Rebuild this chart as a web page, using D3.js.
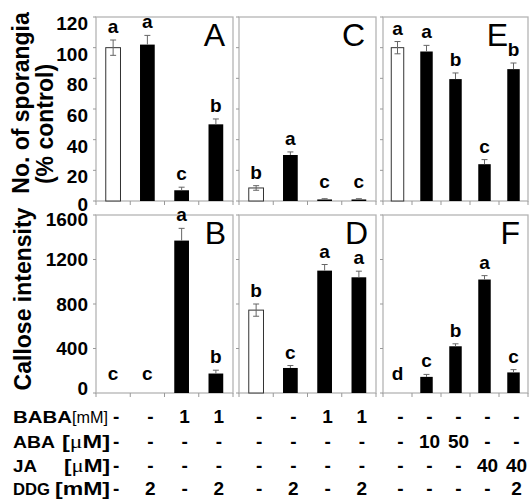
<!DOCTYPE html>
<html>
<head>
<meta charset="utf-8">
<script src="https://cdn.jsdelivr.net/npm/d3@7"></script>
<style>
  body { margin: 0; background: #fff; }
  text { font-family: Arial, "Liberation Sans", sans-serif; }
</style>
</head>
<body>
<script>
// sporangia (% control), panels A, C, E
var sporA = [100, 102, 7, 50];
var sporAErr = [5, 6, 2, 3.5];
var sporALetters = ["a", "a", "c", "b"];
var sporC = [8.5, 30, 1, 1];
var sporCErr = [1.5, 2, 0.5, 0.5];
var sporCLetters = ["b", "a", "c", "c"];
var sporE = [100, 97.5, 79.5, 24, 86];
var sporEErr = [4, 4, 4, 3, 4];
var sporELetters = ["a", "a", "b", "c", "b"];

// callose intensity, panels B, D, F
var calB = [0, 0, 1370, 175];
var calBErr = [0, 0, 110, 30];
var calBLetters = ["c", "c", "a", "b"];
var calD = [745, 225, 1100, 1040];
var calDErr = [55, 22, 55, 55];
var calDLetters = ["b", "c", "a", "a"];
var calF = [0, 145, 420, 1020, 185];
var calFErr = [0, 22, 22, 35, 25];
var calFLetters = ["d", "c", "b", "a", "c"];

var sporTicks = [0, 20, 40, 60, 80, 100, 120];
var calTicks = [0, 400, 800, 1200, 1600];

// treatment table, 13 columns
var rowNames = ["BABA", "ABA", "JA", "DDG"];
var rowUnits = ["[mM]", "[\u03bcM]", "[\u03bcM]", "[mM]"];
var babaRow = ["-", "-", "1", "1", "-", "-", "1", "1", "-", "-", "-", "-", "-"];
var abaRow  = ["-", "-", "-", "-", "-", "-", "-", "-", "-", "10", "50", "-", "-"];
var jaRow   = ["-", "-", "-", "-", "-", "-", "-", "-", "-", "-", "-", "40", "40"];
var ddgRow  = ["-", "2", "-", "2", "-", "2", "-", "2", "-", "-", "-", "-", "2"];

var width = 531, height = 500;
var svg = d3.select("body").append("svg")
    .attr("width", width)
    .attr("height", height);

var colSpans = [[96, 233], [239, 376], [383, 528]];
var topY = d3.scaleLinear().domain([0, 120]).range([201, 17]);
var botY = d3.scaleLinear().domain([0, 1600]).range([393, 215]);

var panels = [
    {vals: sporA, err: sporAErr, letters: sporALetters, col: 0, y: topY, ticks: sporTicks, name: "A", dx: 8},
    {vals: sporC, err: sporCErr, letters: sporCLetters, col: 1, y: topY, ticks: sporTicks, name: "C", dx: 11},
    {vals: sporE, err: sporEErr, letters: sporELetters, col: 2, y: topY, ticks: sporTicks, name: "E", dx: 20},
    {vals: calB, err: calBErr, letters: calBLetters, col: 0, y: botY, ticks: calTicks, name: "B", dx: 7},
    {vals: calD, err: calDErr, letters: calDLetters, col: 1, y: botY, ticks: calTicks, name: "D", dx: 8},
    {vals: calF, err: calFErr, letters: calFLetters, col: 2, y: botY, ticks: calTicks, name: "F", dx: 8}
];

var xScales = [];

panels.forEach(function(p) {
    var span = colSpans[p.col];
    var n = p.vals.length;
    var x = d3.scaleBand()
        .domain(d3.range(n))
        .range(span)
        .paddingInner(0.57)
        .paddingOuter(0.285);
    if (p.y === topY) xScales[p.col] = x;
    var y = p.y;
    var y0 = y.range()[0], y1 = y.range()[1];
    var g = svg.append("g");

    // frame
    g.append("rect")
        .attr("x", span[0]).attr("y", y1)
        .attr("width", span[1] - span[0]).attr("height", y0 - y1)
        .attr("fill", "none")
        .attr("stroke", "#b4b4b4")
        .attr("stroke-width", 1.3);

    // bottom ticks at category boundaries
    var step = x.step();
    g.selectAll(".xt")
        .data(d3.range(n + 1))
        .enter().append("line")
        .attr("x1", i => span[0] + i * step)
        .attr("x2", i => span[0] + i * step)
        .attr("y1", y0).attr("y2", y0 + 4)
        .attr("stroke", "#999");

    // left ticks
    g.selectAll(".yt")
        .data(p.ticks)
        .enter().append("line")
        .attr("x1", span[0] - 3).attr("x2", span[0])
        .attr("y1", d => y(d)).attr("y2", d => y(d))
        .attr("stroke", "#999");

    if (p.col === 0) {
        var top = p.ticks[p.ticks.length - 1];
        g.selectAll(".yl")
            .data(p.ticks)
            .enter().append("text")
            .attr("x", span[0] - 8)
            .attr("y", function(d) {
                // labels sit a little low in the top row, ends pulled in below
                if (p.y === topY) return y(d) + (d === 0 ? 3 : 6);
                if (d === top) return y(d) + 4;
                if (d === 0) return y(d) - 5;
                return y(d);
            })
            .attr("dy", "0.36em")
            .attr("text-anchor", "end")
            .attr("font-size", 19)
            .attr("font-weight", "bold")
            .text(d => d);
    }

    // bars
    g.selectAll(".bar")
        .data(p.vals)
        .enter().append("rect")
        .attr("x", (d, i) => x(i))
        .attr("y", d => y(d))
        .attr("width", x.bandwidth())
        .attr("height", d => y0 - y(d))
        .attr("fill", (d, i) => i === 0 ? "#fff" : "#000")
        .attr("stroke", (d, i) => i === 0 ? "#333" : "none")
        .attr("stroke-width", 1);

    // error bars
    p.vals.forEach(function(v, i) {
        var e = p.err[i];
        if (!e) return;
        var cx = x(i) + x.bandwidth() / 2;
        var lo = i === 0 ? v - e : v;
        g.append("line")
            .attr("x1", cx).attr("x2", cx)
            .attr("y1", y(lo)).attr("y2", y(v + e))
            .attr("stroke", "#666");
        g.append("line")
            .attr("x1", cx - 3).attr("x2", cx + 3)
            .attr("y1", y(v + e)).attr("y2", y(v + e))
            .attr("stroke", "#666");
        if (i === 0) {
            g.append("line")
                .attr("x1", cx - 3).attr("x2", cx + 3)
                .attr("y1", y(v - e)).attr("y2", y(v - e))
                .attr("stroke", "#666");
        }
    });

    // significance letters
    g.selectAll(".sig")
        .data(p.letters)
        .enter().append("text")
        .attr("x", (d, i) => x(i) + x.bandwidth() / 2)
        .attr("y", (d, i) => Math.min(y(p.vals[i] + p.err[i]) - 7, y0 - 13))
        .attr("text-anchor", "middle")
        .attr("font-size", 19)
        .attr("font-weight", "bold")
        .text(d => d);

    // panel letter
    g.append("text")
        .attr("x", span[1] - p.dx)
        .attr("y", y1 + 29)
        .attr("text-anchor", "end")
        .attr("font-size", 32)
        .text(p.name);
});

// axis titles
svg.append("text")
    .attr("transform", "translate(29,103) rotate(-90)")
    .attr("text-anchor", "middle")
    .attr("font-size", 23)
    .attr("font-weight", "bold")
    .text("No. of sporangia");
svg.append("text")
    .attr("transform", "translate(53,124) rotate(-90)")
    .attr("text-anchor", "middle")
    .attr("font-size", 23)
    .attr("font-weight", "bold")
    .text("(% control)");
svg.append("text")
    .attr("transform", "translate(31,299) rotate(-90)")
    .attr("text-anchor", "middle")
    .attr("font-size", 23)
    .attr("font-weight", "bold")
    .text("Callose intensity");

// treatment table
var rows = [babaRow, abaRow, jaRow, ddgRow];
var rowY = [423, 448, 472, 495];
var nameLen = [59, 42, 24, 37];
var unitX = [72, 62, 64, 55];
var unitLen = [36, 48, 46, 55];
var unitSize = [16, 19, 19, 19];
var colCenters = [];
colSpans.forEach(function(span, c) {
    var x = xScales[c];
    x.domain().forEach(i => colCenters.push(x(i) + x.bandwidth() / 2 + 3));
});

rows.forEach(function(row, r) {
    svg.append("text")
        .attr("x", 13).attr("y", rowY[r])
        .attr("font-size", 17)
        .attr("font-weight", "bold")
        .attr("textLength", nameLen[r])
        .attr("lengthAdjust", "spacingAndGlyphs")
        .text(rowNames[r]);
    var unit = rowUnits[r];
    var isMicro = unit[1] !== "m";
    var u = svg.append("text")
        .attr("x", unitX[r]).attr("y", rowY[r])
        .attr("font-size", unitSize[r])
        .attr("font-weight", r === 0 ? "normal" : "bold")
        .attr("textLength", unitLen[r])
        .attr("lengthAdjust", "spacingAndGlyphs");
    u.append("tspan").text("[");
    var mid = u.append("tspan").text(unit[1]);
    if (isMicro) {
        mid.attr("font-weight", "normal")
            .attr("font-family", "'Liberation Serif', serif");
    }
    u.append("tspan").text(unit.slice(2));
    svg.selectAll(".v" + r)
        .data(row)
        .enter().append("text")
        .attr("x", (d, i) => colCenters[i])
        .attr("y", rowY[r])
        .attr("text-anchor", "middle")
        .attr("font-size", 19)
        .attr("font-weight", "bold")
        .text(d => d);
});
</script>
</body>
</html>
